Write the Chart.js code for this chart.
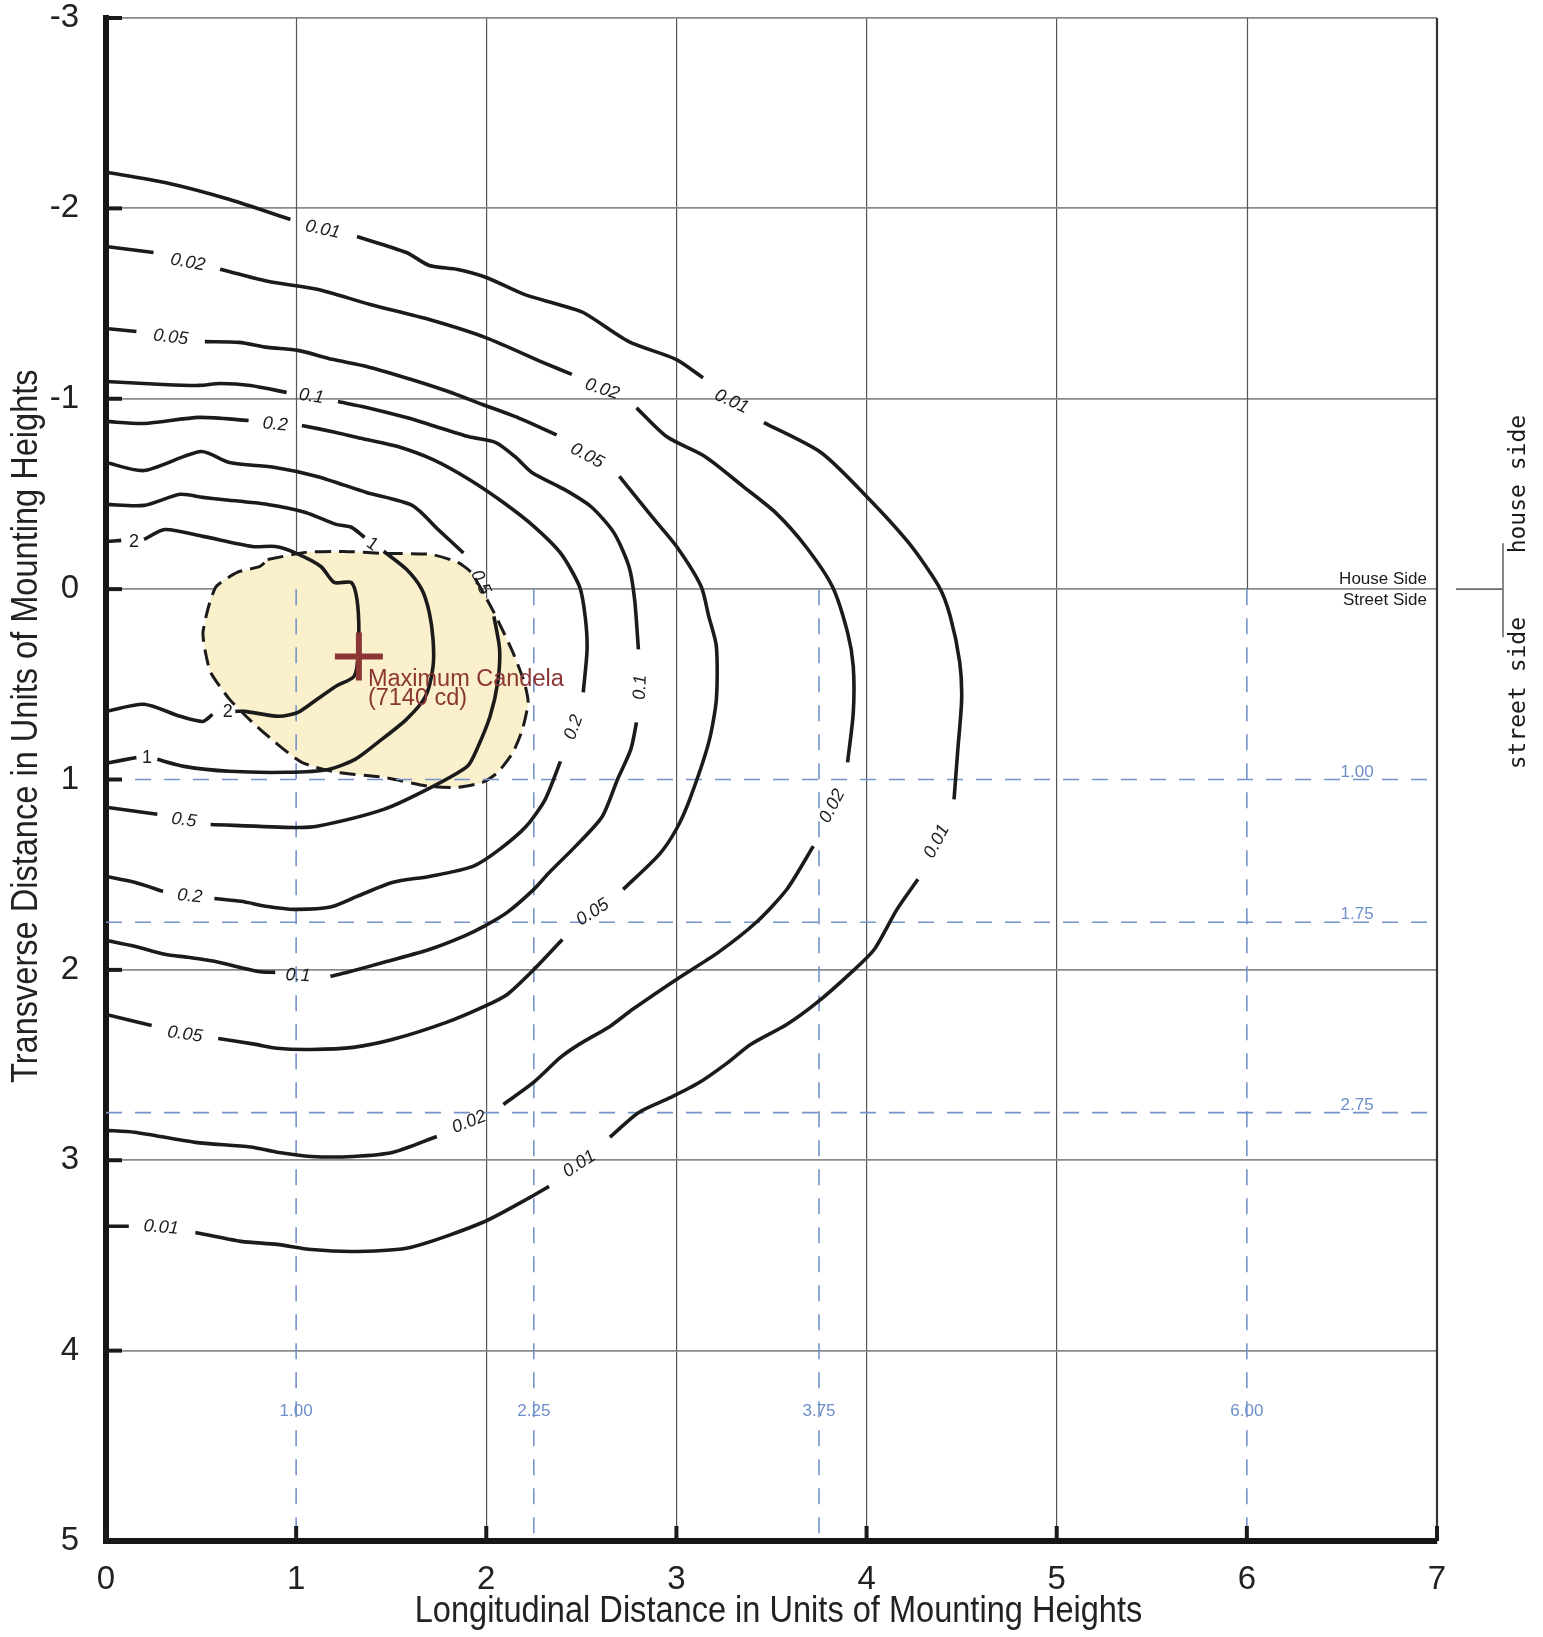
<!DOCTYPE html>
<html><head><meta charset="utf-8">
<script src="https://cdn.jsdelivr.net/npm/chart.js@4.4.1/dist/chart.umd.min.js"></script>
<style>html,body{margin:0;padding:0;background:#fff}canvas{display:block}</style>
</head><body>
<canvas id="c" width="1543" height="1637"></canvas>
<script>
// ---------------- data ----------------
const xTicks = [0, 1, 2, 3, 4, 5, 6, 7];
const yTicks = [-3, -2, -1, 0, 1, 2, 3, 4, 5];
const xTitle = "Longitudinal Distance in Units of Mounting Heights";
const yTitle = "Transverse Distance in Units of Mounting Heights";
const contourLevels = ["0.01", "0.02", "0.05", "0.1", "0.2", "0.5", "1", "2"];

// iso-footcandle contours, [longitudinal, transverse]; null = gap for a label
const c001 = [[0,-2.19],[0.31,-2.136],[0.65,-2.047],[0.97,-1.942],null,[1.32,-1.852],[1.58,-1.768],[1.70,-1.70],[1.85,-1.679],[2.0,-1.637],[2.20,-1.548],[2.38,-1.495],[2.51,-1.453],[2.75,-1.30],[3.0,-1.206],[3.14,-1.11],null,[3.46,-0.875],[3.76,-0.718],[4.0,-0.487],[4.22,-0.245],[4.38,-0.014],[4.44,0.143],[4.49,0.385],[4.50,0.579],[4.48,0.842],[4.46,1.104],null,[4.27,1.524],[4.16,1.682],[4.04,1.893],[3.92,2.013],[3.74,2.171],[3.58,2.287],[3.39,2.392],[3.27,2.487],[3.12,2.592],[2.97,2.67],[2.80,2.75],[2.65,2.879],null,[2.33,3.137],[2.23,3.195],[1.98,3.327],[1.60,3.458],[1.32,3.479],[1.08,3.469],[0.90,3.442],[0.71,3.426],[0.47,3.379],null,[0.12,3.347],[0,3.347]];
const c002 = [[0,-1.80],[0.25,-1.768],null,[0.60,-1.68],[0.85,-1.617],[1.11,-1.575],[1.39,-1.495],[1.70,-1.416],[2.0,-1.32],[2.30,-1.19],[2.45,-1.128],null,[2.79,-0.952],[2.95,-0.80],[3.15,-0.697],[3.35,-0.54],[3.52,-0.403],[3.68,-0.224],[3.82,-0.014],[3.90,0.227],[3.93,0.406],[3.93,0.65],[3.90,0.91],null,[3.72,1.35],[3.58,1.578],[3.42,1.75],[3.22,1.908],[3.0,2.05],[2.77,2.207],[2.65,2.297],[2.49,2.39],[2.39,2.46],[2.25,2.59],[2.09,2.707],null,[1.74,2.875],[1.51,2.958],[1.30,2.98],[1.08,2.98],[0.90,2.958],[0.76,2.93],[0.47,2.906],[0.15,2.853],[0,2.843]];
const c005 = [[0,-1.369],[0.16,-1.353],null,[0.52,-1.30],[0.70,-1.296],[0.85,-1.27],[1.01,-1.254],[1.19,-1.207],[1.37,-1.17],[1.61,-1.10],[1.80,-1.038],[1.98,-0.97],[2.15,-0.907],[2.37,-0.81],null,[2.70,-0.592],[2.87,-0.382],[3.0,-0.225],[3.13,-0.014],[3.17,0.143],[3.21,0.30],[3.21,0.579],[3.17,0.805],[3.07,1.104],[3.0,1.26],[2.91,1.393],[2.72,1.577],null,[2.40,1.84],[2.25,1.998],[2.11,2.129],[1.99,2.192],[1.79,2.276],[1.51,2.365],[1.30,2.407],[1.08,2.418],[0.90,2.412],[0.78,2.39],[0.59,2.36],null,[0.24,2.292],[0,2.234]];
const c01 = [[0,-1.091],[0.30,-1.075],[0.49,-1.07],[0.60,-1.08],[0.76,-1.07],[0.95,-1.033],null,[1.22,-0.985],[1.37,-0.954],[1.58,-0.901],[1.70,-0.865],[1.91,-0.80],[2.05,-0.77],[2.15,-0.697],[2.24,-0.613],[2.41,-0.524],[2.55,-0.434],[2.67,-0.298],[2.75,-0.12],[2.78,0.054],[2.80,0.316],null,[2.79,0.70],[2.76,0.842],[2.69,1.0],[2.61,1.194],[2.47,1.35],[2.33,1.49],[2.25,1.577],[2.11,1.698],[1.99,1.77],[1.88,1.824],[1.70,1.893],[1.48,1.955],[1.27,2.013],[1.18,2.034],null,[0.89,2.013],[0.80,2.008],[0.57,1.955],[0.43,1.934],[0.31,1.918],[0.15,1.876],[0,1.845]];
const c02 = [[0,-0.881],[0.20,-0.87],[0.49,-0.902],[0.75,-0.886],null,[1.03,-0.86],[1.21,-0.823],[1.37,-0.786],[1.53,-0.75],[1.72,-0.68],[1.91,-0.576],[2.09,-0.455],[2.25,-0.33],[2.39,-0.19],[2.49,-0.014],[2.52,0.143],[2.53,0.316],[2.51,0.542],null,[2.39,0.905],[2.31,1.104],[2.21,1.246],[2.07,1.367],[1.93,1.456],[1.70,1.509],[1.51,1.54],[1.32,1.614],[1.18,1.67],[0.99,1.682],[0.85,1.667],[0.71,1.64],[0.57,1.625],null,[0.30,1.588],[0.15,1.54],[0,1.509]];
const c05 = [[0,-0.665],[0.20,-0.623],[0.50,-0.723],[0.65,-0.665],[0.89,-0.639],[1.11,-0.592],[1.37,-0.508],[1.61,-0.44],[1.75,-0.31],[1.88,-0.19],null,[2.04,0.143],[2.07,0.316],[2.06,0.49],[2.02,0.668],[1.95,0.842],[1.90,0.931],[1.71,1.041],[1.46,1.157],[1.11,1.246],[0.99,1.252],[0.55,1.236],null,[0.27,1.183],[0,1.146]];
const c1 = [[0,-0.445],[0.20,-0.44],[0.39,-0.498],[0.51,-0.482],[0.61,-0.471],[0.85,-0.445],[1.05,-0.403],[1.21,-0.34],[1.29,-0.325],[1.36,-0.272],null,[1.46,-0.199],[1.58,-0.104],[1.66,0.0],[1.70,0.122],[1.72,0.264],[1.72,0.406],[1.68,0.564],[1.58,0.684],[1.43,0.805],[1.31,0.894],[1.17,0.947],[0.95,0.962],[0.65,0.957],[0.41,0.931],[0.27,0.894],null,[0.16,0.884],[0,0.915]];
const c2 = [[0,-0.25],[0.08,-0.256],null,[0.20,-0.261],[0.31,-0.313],[0.51,-0.277],[0.77,-0.224],[0.89,-0.224],[0.99,-0.193],[1.13,-0.119],[1.20,-0.035],[1.29,-0.035],[1.32,0.054],[1.33,0.227],[1.32,0.406],[1.30,0.463],[1.21,0.51],[1.11,0.579],[1.01,0.647],[0.91,0.668],[0.73,0.642],[0.68,0.642],null,[0.56,0.658],[0.51,0.695],[0.39,0.668],[0.20,0.605],[0,0.642]];
const contourSeries = [c001, c002, c005, c01, c02, c05, c1, c2];

// contour labels: [text, longitudinal, transverse, angle]
const contourLabels = [
  ["0.01",1.14,-1.889,12],["0.02",0.43,-1.716,10],["0.05",0.34,-1.322,7],["0.1",1.08,-1.012,9],["0.2",0.89,-0.865,5],
  ["0.02",2.61,-1.05,18],["0.01",3.29,-0.985,25],["0.05",2.53,-0.70,28],["0.5",1.97,-0.035,65],["1",1.40,-0.235,35],
  ["2",0.147,-0.245,0],["2",0.64,0.643,0],["1",0.215,0.889,0],["0.5",0.41,1.214,8],["0.2",0.44,1.614,6],
  ["0.1",1.01,2.03,3],["0.05",0.415,2.339,8],["0.02",1.91,2.80,-22],["0.01",0.29,3.353,5],["0.01",2.49,3.02,-33],
  ["0.05",2.56,1.698,-33],["0.02",3.82,1.14,-62],["0.01",4.37,1.325,-62],["0.1",2.81,0.516,-88],["0.2",2.46,0.726,-70]
];

// half-maximum candela trace (shaded zone)
const halfMaxZone = [[0.85,-0.156],[1.05,-0.193],[1.25,-0.198],[1.46,-0.188],[1.71,-0.182],[1.85,-0.14],[1.92,-0.088],[2.04,0.122],[2.14,0.332],[2.20,0.49],[2.22,0.595],[2.19,0.737],[2.14,0.858],[2.06,0.963],[1.98,1.015],[1.85,1.041],[1.70,1.036],[1.46,0.989],[1.21,0.962],[1.03,0.91],[0.89,0.805],[0.77,0.70],[0.65,0.579],[0.55,0.437],[0.52,0.316],[0.51,0.227],[0.54,0.09],[0.58,-0.014],[0.69,-0.088],[0.81,-0.119],[0.85,-0.156]];

const maxCandela = [1.33, 0.354];
const maxCandelaText = ["Maximum Candela", "(7140 cd)"];
const refLongitudinal = [1.00, 2.25, 3.75, 6.00];
const refTransverse = [1.00, 1.75, 2.75];
const refLabelY = 4.32;
const refLabelX = 6.58;
const zoneLabels = ["House Side", "Street Side"];
const sideLabels = ["house side", "street side"];

// ---------------- chart ----------------
const SANS = "'Liberation Sans', Arial, Helvetica, sans-serif";
const AREA = {left: 106, top: 18, right: 1437, bottom: 1541};
const toPts = arr => arr.map(p => p ? {x: p[0], y: p[1]} : {x: null, y: null});

const datasets = [];
contourSeries.forEach((s, i) => datasets.push({
  label: contourLevels[i], data: toPts(s), showLine: true, borderColor: '#1b1b1b', borderWidth: 3.6,
  pointRadius: 0, tension: 0.25, fill: false, order: 1
}));
refLongitudinal.forEach(v => datasets.push({
  label: 'ref ' + v, data: [{x: v, y: 0}, {x: v, y: 5}], showLine: true, borderColor: '#7593cb',
  borderWidth: 1.6, borderDash: [16, 13], pointRadius: 0, order: 2
}));
refTransverse.forEach(v => datasets.push({
  label: 'ref ' + v, data: [{x: 0, y: v}, {x: 7, y: v}], showLine: true, borderColor: '#7593cb',
  borderWidth: 1.6, borderDash: [16, 13], pointRadius: 0, order: 2
}));
datasets.push({
  label: 'half max', data: toPts(halfMaxZone), showLine: true, borderColor: '#1b1b1b', borderWidth: 3,
  borderDash: [16, 8], backgroundColor: 'rgb(250,241,204)', fill: 'shape', pointRadius: 0, tension: 0.2, order: 3
});
datasets.push({
  label: 'max', data: [{x: maxCandela[0], y: maxCandela[1]}], pointStyle: 'cross', pointRadius: 24,
  pointBorderWidth: 6, pointBorderColor: '#8b3535', borderColor: '#8b3535', showLine: false, order: 0
});

// grid lines that coincide with a reference line
const hiddenXGrid = refLongitudinal.filter(v => Number.isInteger(v));
const hiddenYGrid = refTransverse.filter(v => Number.isInteger(v));

const overlay = {
  id: 'overlay',
  beforeDatasetsDraw(chart) {
    const {ctx, scales: {x, y}} = chart;
    ctx.save();
    ctx.strokeStyle = '#555'; ctx.lineWidth = 1.2;
    hiddenXGrid.forEach(v => {
      const px = Math.round(x.getPixelForValue(v)) + 0.5;
      ctx.beginPath(); ctx.moveTo(px, y.getPixelForValue(-3)); ctx.lineTo(px, y.getPixelForValue(0)); ctx.stroke();
    });
    ctx.restore();
  },
  afterDraw(chart) {
    const {ctx, chartArea: a, scales: {x, y}} = chart;
    ctx.save();
    // right border
    ctx.strokeStyle = '#333'; ctx.lineWidth = 2.2;
    ctx.beginPath(); ctx.moveTo(x.getPixelForValue(7), a.top); ctx.lineTo(x.getPixelForValue(7), a.bottom); ctx.stroke();
    // inner ticks
    ctx.strokeStyle = '#1a1a1a'; ctx.lineWidth = 4;
    yTicks.forEach(v => { const py = y.getPixelForValue(v); ctx.beginPath(); ctx.moveTo(a.left, py); ctx.lineTo(a.left + 16, py); ctx.stroke(); });
    xTicks.forEach(v => { const px = x.getPixelForValue(v); ctx.beginPath(); ctx.moveTo(px, a.bottom); ctx.lineTo(px, a.bottom - 15); ctx.stroke(); });

    // contour labels
    ctx.fillStyle = '#1b1b1b'; ctx.textAlign = 'center'; ctx.textBaseline = 'middle';
    contourLabels.forEach(([t, lx, ly, ang]) => {
      ctx.save();
      ctx.translate(x.getPixelForValue(lx), y.getPixelForValue(ly));
      ctx.rotate(ang * Math.PI / 180);
      ctx.font = (t.length > 1 ? 'italic ' : '') + '18px ' + SANS;
      ctx.fillText(t, 0, 0);
      ctx.restore();
    });

    // reference labels
    ctx.fillStyle = '#6f8fca'; ctx.font = '17px ' + SANS;
    refLongitudinal.forEach(v => ctx.fillText(v.toFixed(2), x.getPixelForValue(v), y.getPixelForValue(refLabelY)));
    ctx.textBaseline = 'alphabetic';
    refTransverse.forEach(v => ctx.fillText(v.toFixed(2), x.getPixelForValue(refLabelX), y.getPixelForValue(v) - 3));

    // max candela text
    const mx = x.getPixelForValue(maxCandela[0]), my = y.getPixelForValue(maxCandela[1]);
    ctx.fillStyle = '#8b3535'; ctx.font = '23.5px ' + SANS; ctx.textAlign = 'left'; ctx.textBaseline = 'middle';
    ctx.fillText(maxCandelaText[0], mx + 9, my + 23);
    ctx.fillText(maxCandelaText[1], mx + 9, my + 42);

    // house / street side
    const y0 = y.getPixelForValue(0);
    ctx.fillStyle = '#1b1b1b'; ctx.font = '17px ' + SANS; ctx.textAlign = 'right';
    ctx.textBaseline = 'alphabetic'; ctx.fillText(zoneLabels[0], a.right - 10, y0 - 5);
    ctx.textBaseline = 'top'; ctx.fillText(zoneLabels[1], a.right - 10, y0 + 3);
    ctx.strokeStyle = '#6a6a6a'; ctx.lineWidth = 1.6;
    ctx.beginPath(); ctx.moveTo(a.right + 19, y0); ctx.lineTo(a.right + 66, y0);
    ctx.moveTo(a.right + 66, y0 - 46); ctx.lineTo(a.right + 66, y0 + 48); ctx.stroke();
    ctx.font = "23px 'DejaVu Sans Mono', 'Liberation Mono', monospace"; ctx.textAlign = 'center'; ctx.textBaseline = 'middle';
    [[sideLabels[0], -105], [sideLabels[1], 104]].forEach(([t, dy]) => {
      ctx.save(); ctx.translate(a.right + 82, y0 + dy); ctx.rotate(-Math.PI / 2); ctx.fillText(t, 0, 0); ctx.restore();
    });

    // axis titles (condensed Helvetica look)
    ctx.fillStyle = '#222'; ctx.font = '37px ' + SANS; ctx.textAlign = 'center'; ctx.textBaseline = 'alphabetic';
    ctx.save();
    ctx.translate((a.left + a.right) / 2 + 7, a.bottom + 81); ctx.scale(0.88, 1);
    ctx.fillText(xTitle, 0, 0);
    ctx.restore();
    ctx.save();
    ctx.translate(37, y.getPixelForValue(0.72)); ctx.rotate(-Math.PI / 2); ctx.scale(0.88, 1);
    ctx.fillText(yTitle, 0, 0);
    ctx.restore();
    ctx.restore();
  }
};

new Chart(document.getElementById('c'), {
  type: 'scatter',
  data: {datasets},
  plugins: [overlay],
  options: {
    responsive: false, animation: false, devicePixelRatio: 1,
    layout: {autoPadding: false, padding: {top: AREA.top, right: 1543 - AREA.right, left: 0, bottom: 0}},
    plugins: {legend: {display: false}, tooltip: {enabled: false}},
    scales: {
      x: {
        type: 'linear', min: 0, max: 7,
        afterFit: s => { s.height = 1637 - AREA.bottom; },
        afterBuildTicks: s => { s.ticks = xTicks.map(v => ({value: v})); },
        ticks: {color: '#222', font: {family: SANS, size: 33, lineHeight: 1}, padding: 22, maxRotation: 0},
        grid: {color: c => hiddenXGrid.includes(c.tick && c.tick.value) ? 'rgba(0,0,0,0)' : '#555', lineWidth: 1.2, drawTicks: false},
        border: {display: true, color: '#161616', width: 6},
        title: {display: false, text: xTitle}
      },
      y: {
        type: 'linear', min: -3, max: 5, reverse: true,
        afterFit: s => { s.width = AREA.left; },
        afterBuildTicks: s => { s.ticks = yTicks.map(v => ({value: v})); },
        ticks: {color: '#222', font: {family: SANS, size: 33, lineHeight: 1}, padding: 0},
        grid: {color: c => hiddenYGrid.includes(c.tick && c.tick.value) ? 'rgba(0,0,0,0)' : '#8a8a8a', lineWidth: 1.8,
               drawTicks: true, tickLength: 27, tickColor: 'rgba(0,0,0,0)'},
        border: {display: true, color: '#161616', width: 6},
        title: {display: false, text: yTitle}
      }
    }
  }
});
</script>
</body></html>
